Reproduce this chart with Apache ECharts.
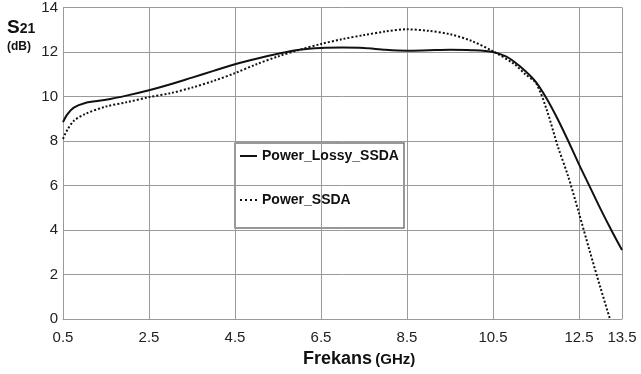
<!DOCTYPE html>
<html>
<head>
<meta charset="utf-8">
<script src="https://cdn.jsdelivr.net/npm/echarts@6/dist/echarts.min.js"></script>
<style>
  html, body { margin: 0; padding: 0; background: #fff; }
  #chart { width: 641px; height: 374px; }
</style>
</head>
<body>
<div id="chart"></div>
<script>
// frequency (GHz) / S21 (dB)
const lossyFreq = [0.5, 0.6, 0.75, 1.0, 1.5, 2.0, 2.5, 3.0, 3.5, 4.0, 4.5, 5.0, 5.5, 6.0, 6.5, 7.0, 7.5, 8.0, 8.5, 9.0, 9.5, 10.0, 10.5, 10.8, 11.0, 11.25, 11.5, 11.75, 12.0, 12.25, 12.5, 12.75, 13.0, 13.25, 13.5];
const lossyS21 = [8.85, 9.2, 9.5, 9.7, 9.85, 10.05, 10.28, 10.55, 10.85, 11.15, 11.45, 11.7, 11.92, 12.1, 12.18, 12.2, 12.18, 12.1, 12.06, 12.08, 12.1, 12.08, 12.0, 11.8, 11.55, 11.15, 10.65, 9.9, 9.0, 8.0, 6.95, 5.95, 4.95, 4.0, 3.1];

const ssdaFreq = [0.5, 0.6, 0.75, 1.0, 1.5, 2.0, 2.5, 3.0, 3.5, 4.0, 4.5, 5.0, 5.5, 6.0, 6.5, 7.0, 7.5, 8.0, 8.5, 9.0, 9.5, 10.0, 10.5, 11.0, 11.25, 11.5, 11.75, 12.0, 12.25, 12.5, 12.75, 13.0, 13.22];
const ssdaS21 = [8.1, 8.5, 8.9, 9.2, 9.55, 9.75, 9.97, 10.15, 10.4, 10.7, 11.05, 11.45, 11.8, 12.1, 12.36, 12.58, 12.76, 12.92, 13.02, 12.95, 12.8, 12.5, 12.03, 11.45, 11.0, 10.6, 9.4, 7.8, 6.4, 4.75, 3.05, 1.4, 0];

const xTickLabels = ['0.5', '2.5', '4.5', '6.5', '8.5', '10.5', '12.5', '13.5'];
const seriesNames = ['Power_Lossy_SSDA', 'Power_SSDA'];

const chart = echarts.init(document.getElementById('chart'));
const font = 'Liberation Sans, Arial, sans-serif';
const gridColor = '#9a9a9a';

const zip = (xs, ys) => xs.map((x, i) => [x, ys[i]]);

// legend glyphs: a short bar and four square dots
const solidIcon = 'path://M0,0h17v2h-17z';
const dotIcon = 'path://M0,0h2v2h-2zM5,0h2v2h-2zM10,0h2v2h-2zM15,0h2v2h-2z';

chart.setOption({
  animation: false,
  textStyle: { fontFamily: font },
  grid: { left: 63, right: 19, top: 6, bottom: 55 },
  xAxis: [
    {
      // data axis, in GHz
      type: 'value', min: 0.5, max: 13.5, show: false
    },
    {
      // drawing axis, offset by 0.5 GHz so the ticks fall on 0.5, 2.5 ...
      type: 'value', min: 0, max: 13, interval: 2,
      position: 'bottom',
      axisLine: { show: true, lineStyle: { color: gridColor, width: 1 } },
      axisTick: { show: false },
      splitLine: { show: true, lineStyle: { color: gridColor, width: 1 } },
      axisLabel: {
        color: '#222', fontSize: 15, margin: 11,
        formatter: (v, i) => xTickLabels[i]
      }
    }
  ],
  yAxis: {
    type: 'value', min: 0, max: 14, interval: 2,
    axisLine: { show: true, lineStyle: { color: gridColor, width: 1 } },
    axisTick: { show: false },
    splitLine: { show: true, lineStyle: { color: gridColor, width: 1 } },
    axisLabel: { color: '#222', fontSize: 15, margin: 5 }
  },
  legend: {
    orient: 'vertical',
    left: 240, top: 149, padding: 0,
    itemWidth: 17, itemHeight: 2, itemGap: 30,
    itemStyle: { color: '#111', borderWidth: 0 },
    textStyle: { fontSize: 14, fontWeight: 'bold', color: '#111' },
    data: [
      { name: seriesNames[0], icon: solidIcon },
      { name: seriesNames[1], icon: dotIcon }
    ]
  },
  graphic: [
    {
      type: 'rect', z: 0,
      shape: { x: 235, y: 143, width: 169, height: 85 },
      style: { fill: '#fff', stroke: '#777', lineWidth: 1.5 }
    },
    {
      type: 'text', left: 7, top: 18,
      style: {
        text: '{s|S}{n|21}',
        rich: {
          s: { fontSize: 19, fontWeight: 'bold', fontFamily: font, fill: '#111' },
          n: { fontSize: 14, fontWeight: 'bold', fontFamily: font, fill: '#111', padding: [4, 0, 0, 0] }
        }
      }
    },
    {
      type: 'text', left: 7, top: 41,
      style: { text: '(dB)', fontSize: 12, fontWeight: 'bold', fontFamily: font, fill: '#111' }
    },
    {
      type: 'text', left: 303, top: 350,
      style: {
        text: '{a|Frekans} {b|(GHz)}',
        rich: {
          a: { fontSize: 18, fontWeight: 'bold', fontFamily: font, fill: '#111' },
          b: { fontSize: 15, fontWeight: 'bold', fontFamily: font, fill: '#111', padding: [2, 0, 0, 0] }
        }
      }
    }
  ],
  series: [
    {
      name: seriesNames[0], type: 'line', xAxisIndex: 0,
      data: zip(lossyFreq, lossyS21),
      smooth: 0.3, symbol: 'none', z: 3,
      lineStyle: { color: '#111', width: 2, type: 'solid' },
      itemStyle: { color: '#111' }
    },
    {
      name: seriesNames[1], type: 'line', xAxisIndex: 0,
      data: zip(ssdaFreq, ssdaS21),
      smooth: 0.3, symbol: 'none', z: 3,
      lineStyle: { color: '#111', width: 2, type: [2, 2] },
      itemStyle: { color: '#111' }
    }
  ]
});
</script>
</body>
</html>
